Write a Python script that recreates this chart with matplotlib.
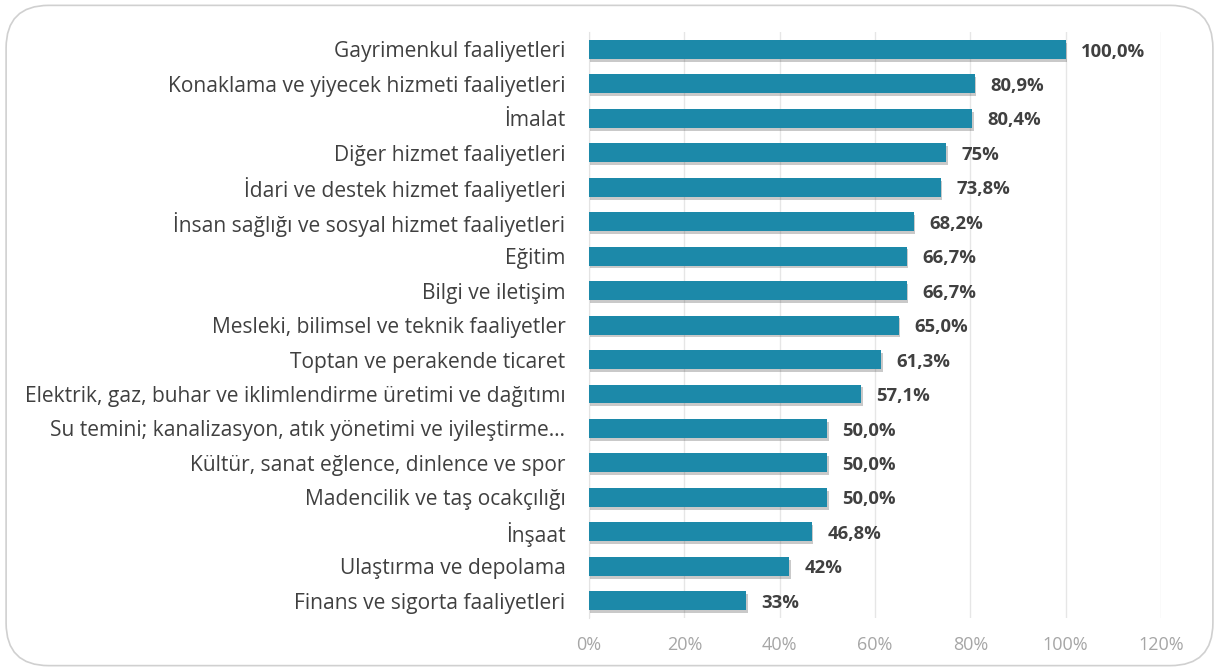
import matplotlib
matplotlib.use("Agg")
import matplotlib.pyplot as plt
from matplotlib.patches import FancyBboxPatch
from matplotlib.ticker import FuncFormatter, MultipleLocator
import matplotlib.patheffects as pe

categories = [
    "Gayrimenkul faaliyetleri",
    "Konaklama ve yiyecek hizmeti faaliyetleri",
    "İmalat",
    "Diğer hizmet faaliyetleri",
    "İdari ve destek hizmet faaliyetleri",
    "İnsan sağlığı ve sosyal hizmet faaliyetleri",
    "Eğitim",
    "Bilgi ve iletişim",
    "Mesleki, bilimsel ve teknik faaliyetler",
    "Toptan ve perakende ticaret",
    "Elektrik, gaz, buhar ve iklimlendirme üretimi ve dağıtımı",
    "Su temini; kanalizasyon, atık yönetimi ve iyileştirme…",
    "Kültür, sanat eğlence, dinlence ve spor",
    "Madencilik ve taş ocakçılığı",
    "İnşaat",
    "Ulaştırma ve depolama",
    "Finans ve sigorta faaliyetleri",
]
values = [100.0, 80.9, 80.4, 75.0, 73.8, 68.2, 66.7, 66.7, 65.0, 61.3, 57.1, 50.0, 50.0, 50.0, 46.8, 42.0, 33.0]
value_labels = ["100,0%", "80,9%", "80,4%", "75%", "73,8%", "68,2%", "66,7%", "66,7%", "65,0%",
                "61,3%", "57,1%", "50,0%", "50,0%", "50,0%", "46,8%", "42%", "33%"]

plt.rcParams['font.family'] = ['Open Sans', 'DejaVu Sans']

fig = plt.figure(figsize=(12.19, 6.71), dpi=100)
fig.patch.set_facecolor("white")
border = FancyBboxPatch((0.005, 0.008), 0.99, 0.984, boxstyle="round,pad=0,rounding_size=0.035",
                        transform=fig.transFigure, facecolor="white", edgecolor="#d0d0d0",
                        linewidth=1.2, mutation_aspect=1219/671, zorder=-10)
fig.patches.append(border)

ax = fig.add_axes([0.4832, 0.079, 0.4692, 0.873])
ax.set_facecolor("none")
ypos = list(range(len(categories)))
bars = ax.barh(ypos, values, height=0.55, color="#1c89a9", zorder=3)
for b in bars:
    b.set_path_effects([pe.SimplePatchShadow(offset=(1, -2), shadow_rgbFace="#404040", alpha=0.28), pe.Normal()])
ax.set_xlim(0, 120)
ax.set_ylim(len(categories) - 0.5, -0.5)
ax.set_yticks(ypos)
ax.set_yticklabels(categories, fontsize=15.1, color="#404040")
ax.xaxis.set_major_locator(MultipleLocator(20))
ax.xaxis.set_major_formatter(FuncFormatter(lambda v, p: f"{int(v)}%"))
ax.tick_params(axis='x', labelsize=13, colors="#a6a6a6", length=0, pad=13)
ax.tick_params(axis='y', length=0, pad=17)
for s in ["top", "right", "bottom"]:
    ax.spines[s].set_visible(False)
ax.spines["left"].set_color("#e3e3e3")
ax.grid(axis='x', color="#e6e6e6", linewidth=1, zorder=0)
for y, v, lab in zip(ypos, values, value_labels):
    ax.annotate(lab, (v, y), xytext=(11, -1.5), textcoords="offset points", va="center", ha="left",
                fontsize=13.3, fontweight="bold", color="#404040")

fig.savefig("out.png", dpi=100, facecolor="white")
